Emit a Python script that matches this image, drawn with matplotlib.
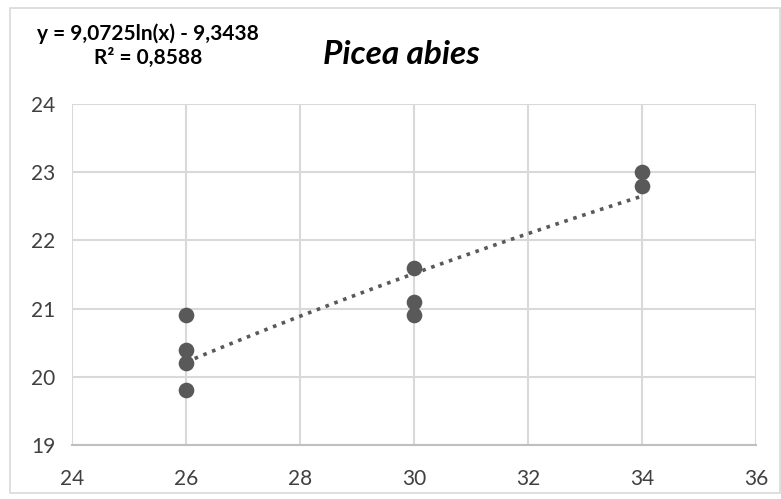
import numpy as np
import matplotlib
matplotlib.use("Agg")
import matplotlib.pyplot as plt
from matplotlib.patches import Rectangle

x_vals = [26, 26, 26, 26, 30, 30, 30, 34, 34]
y_vals = [20.9, 20.4, 20.2, 19.8, 21.6, 21.1, 20.9, 23.0, 22.8]
coef_a = 9.0725
coef_b = -9.3438
x_ticks = [24, 26, 28, 30, 32, 34, 36]
y_ticks = [19, 20, 21, 22, 23, 24]
title = "Picea abies"
eq_text = "y = 9,0725ln(x) - 9,3438\nR² = 0,8588"

plt.rcParams['font.family'] = ['Lato', 'DejaVu Sans']
fig = plt.figure(figsize=(7.81, 4.99), dpi=100)
fig.patches.append(Rectangle((10/781, 1-493/499), 770/781, 485/499, transform=fig.transFigure,
                             fill=False, edgecolor='#d9d9d9', linewidth=1.2))
ax = fig.add_axes([72/781, 1-445/499, 684/781, 341/499])

ax.set_xlim(24, 36)
ax.set_ylim(19, 24)
ax.set_xticks(x_ticks)
ax.set_yticks(y_ticks)
ax.grid(True, color='#d9d9d9', linewidth=1.5)
ax.set_axisbelow(True)
for s in ['top', 'right', 'left']:
    ax.spines[s].set_visible(False)
ax.spines['bottom'].set_color('#bfbfbf')
ax.spines['bottom'].set_linewidth(1.5)
ax.tick_params(length=0, labelsize=15, colors='#404040')
ax.tick_params(axis='y', pad=12)
ax.tick_params(axis='x', pad=17)

xt = np.linspace(min(x_vals), max(x_vals), 100)
ax.plot(xt, coef_a*np.log(xt) + coef_b, linestyle=(0, (1, 1.6)), color='#595959', linewidth=2.6)
ax.scatter(x_vals, y_vals, s=105, color='#595959', zorder=3)

fig.text(401/781, 1-55/499, title, fontsize=24, fontweight='bold', style='italic',
         ha='center', va='center', color='black')
fig.text(148/781, 1-46/499, eq_text, fontsize=15, fontweight='bold', ha='center', va='center',
         color='black', linespacing=1.25)

fig.savefig("out.png", dpi=100)
